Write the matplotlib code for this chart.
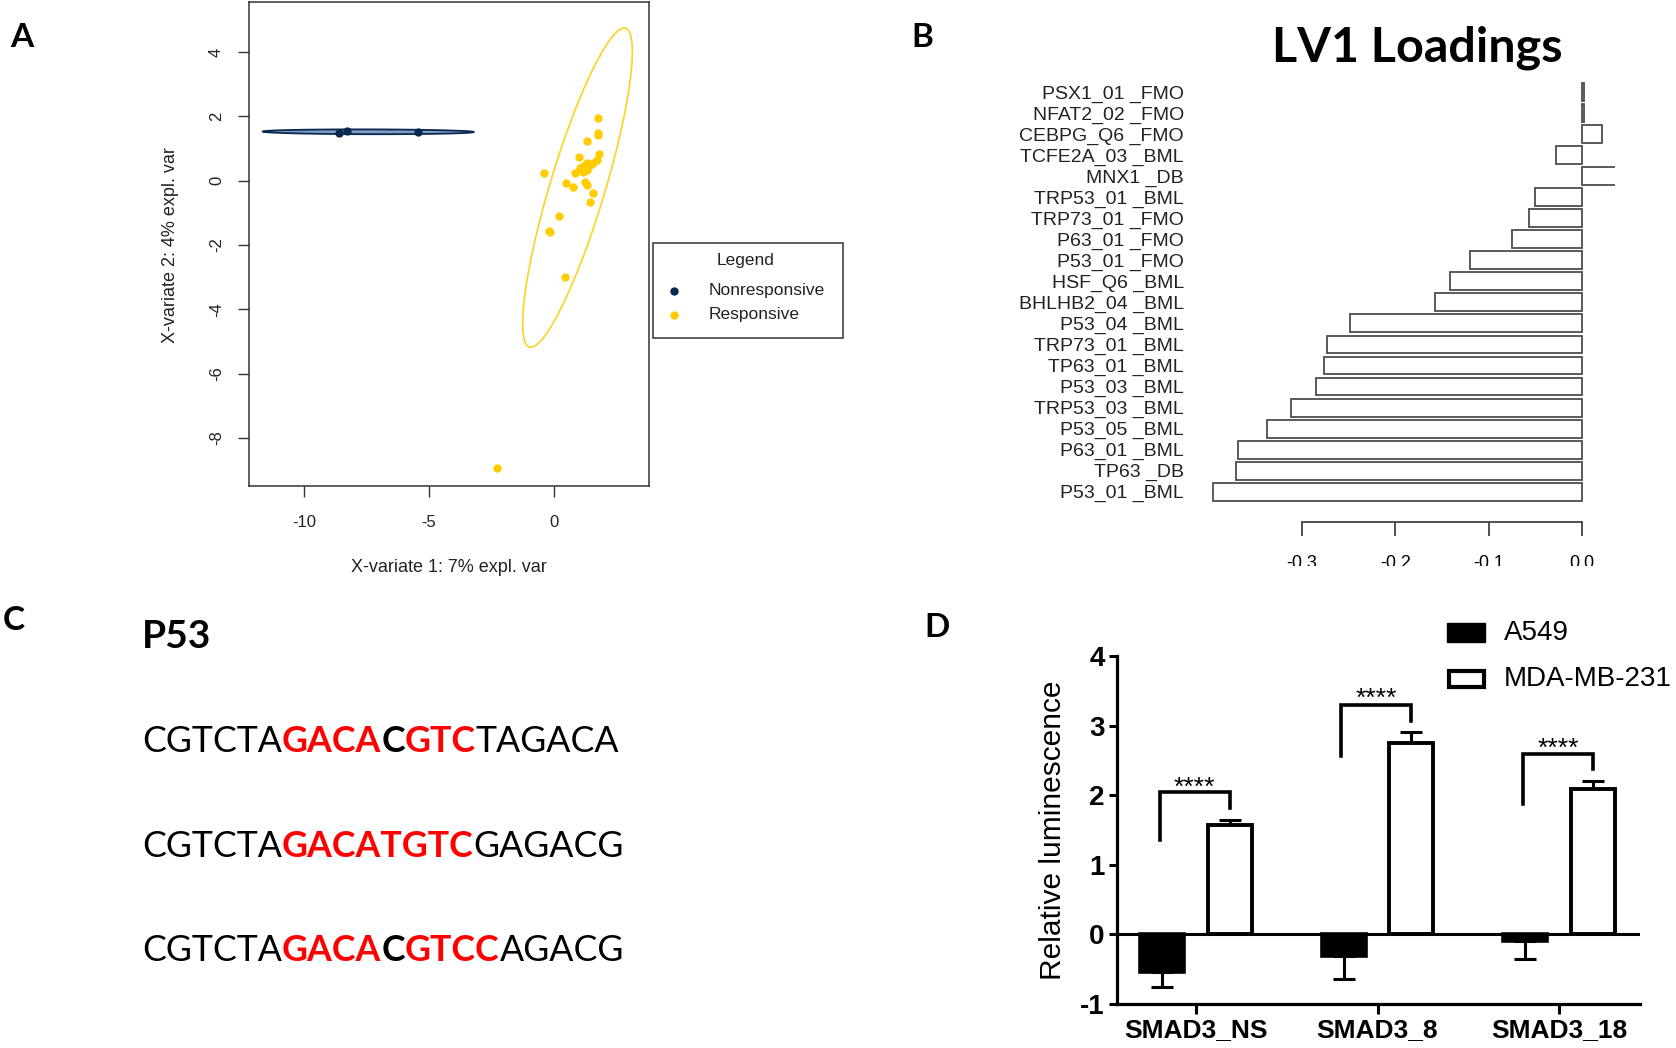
import numpy as np
import matplotlib
matplotlib.use("Agg")
import matplotlib.pyplot as plt
from matplotlib.patches import Rectangle, Polygon
from matplotlib.lines import Line2D

W, H = 1676, 1048

# ---------------- Panel A data ----------------
nonresp_x = [-8.58, -8.26, -5.45]
nonresp_y = [1.49, 1.55, 1.51]
resp_x = [1.73, 1.73, 1.73, 1.32, 1.78, 1.69, 0.98, 1.29, 1.42, 1.16, 1.02, 1.29, 0.82,
          -0.41, 0.47, 1.22, 1.29, 0.76, 1.56, 1.42, 0.20, -0.20, -0.17, 0.43, -2.27, 1.16, 1.56]
resp_y = [1.94, 1.49, 1.42, 1.24, 0.83, 0.64, 0.73, 0.54, 0.49, 0.44, 0.38, 0.33, 0.25,
          0.23, -0.07, -0.03, -0.15, -0.21, -0.39, -0.68, -1.11, -1.56, -1.61, -2.98, -8.92, 0.28, 0.56]
a_xticks = [-10, -5, 0]
a_yticks = [-8, -6, -4, -2, 0, 2, 4]
a_xlabel = "X-variate 1: 7% expl. var"
a_ylabel = "X-variate 2: 4% expl. var"
a_groups = ["Nonresponsive", "Responsive"]

# ---------------- Panel B data ----------------
lv1_labels = ["PSX1_01 _FMO", "NFAT2_02 _FMO", "CEBPG_Q6 _FMO", "TCFE2A_03 _BML", "MNX1 _DB",
              "TRP53_01 _BML", "TRP73_01 _FMO", "P63_01 _FMO", "P53_01 _FMO", "HSF_Q6 _BML",
              "BHLHB2_04 _BML", "P53_04 _BML", "TRP73_01 _BML", "TP63_01 _BML", "P53_03 _BML",
              "TRP53_03 _BML", "P53_05 _BML", "P63_01 _BML", "TP63 _DB", "P53_01 _BML"]
lv1_values = [0.002, 0.002, 0.0215, -0.0283, 0.040, -0.0509, -0.0563, -0.0753, -0.1204, -0.1412,
              -0.1577, -0.2491, -0.2738, -0.2763, -0.2853, -0.3115, -0.3373, -0.3692, -0.3706, -0.3953]
b_xticks = [-0.3, -0.2, -0.1, 0.0]
b_xticklabels = ["-0.3", "-0.2", "-0.1", "0.0"]

# ---------------- Panel C data ----------------
seq_title = "P53"
seq_lines = [
    [("CGTCTA", "black", "normal"), ("GACA", "red", "bold"), ("C", "black", "bold"),
     ("GTC", "red", "bold"), ("TAGACA", "black", "normal")],
    [("CGTCTA", "black", "normal"), ("GACATGTC", "red", "bold"), ("GAGACG", "black", "normal")],
    [("CGTCTA", "black", "normal"), ("GACA", "red", "bold"), ("C", "black", "bold"),
     ("GTCC", "red", "bold"), ("AGACG", "black", "normal")],
]

# ---------------- Panel D data ----------------
d_groups = ["SMAD3_NS", "SMAD3_8", "SMAD3_18"]
a549_mean = [-0.54, -0.316, -0.09]
a549_err = [0.21, 0.32, 0.26]
mda_mean = [1.57, 2.75, 2.09]
mda_err = [0.07, 0.16, 0.11]
bracket_top = [2.04, 3.30, 2.59]
bracket_left_bottom = [1.35, 2.57, 1.88]
bracket_right_bottom = [1.81, 3.06, 2.37]
star_baseline = [2.01, 3.28, 2.56]
sig_text = ["****", "****", "****"]
d_series = ["A549", "MDA-MB-231"]
d_yticks = [-1, 0, 1, 2, 3, 4]

ARIAL = "Liberation Sans"
CAL = "Lato"
NAVY = "#0B2850"
GOLD = "#FFCC00"

fig = plt.figure(figsize=(W / 100, H / 100), dpi=100)
fig.patch.set_facecolor("white")


def rect(l, t, r, b):
    return [l / W, 1 - b / H, (r - l) / W, (b - t) / H]


def conf_ellipse(x, y, chi2=5.991, n=300):
    X = np.column_stack([x, y])
    c = X.mean(axis=0)
    S = np.cov(X.T)
    vals, vecs = np.linalg.eigh(S)
    vals = np.clip(vals, 0, None)
    t = np.linspace(0, 2 * np.pi, n)
    circ = np.vstack([np.cos(t), np.sin(t)])
    pts = (vecs @ (np.sqrt(vals * chi2)[:, None] * circ)).T + c
    return pts


# ================= Panel A =================
axA = fig.add_axes(rect(249, 2, 649, 486))
axA.set_xlim(-12.19, 3.78)
axA.set_ylim(-9.49, 5.55)
e1 = conf_ellipse(nonresp_x, nonresp_y)
axA.add_patch(Polygon(e1, closed=True, facecolor="#7E9DC2", edgecolor=NAVY, lw=1.3, zorder=2))
e2 = conf_ellipse(resp_x, resp_y)
axA.add_patch(Polygon(e2, closed=True, facecolor="none", edgecolor="#FFD21F", lw=1.2, zorder=2))
axA.scatter(nonresp_x, nonresp_y, s=36, color=NAVY, zorder=3, linewidths=0)
axA.scatter(resp_x, resp_y, s=36, color=GOLD, zorder=3, linewidths=0)
axA.set_xticks(a_xticks)
axA.set_xticklabels([str(v) for v in a_xticks])
axA.set_yticks(a_yticks)
axA.set_yticklabels([str(v) for v in a_yticks], rotation=90, va="center")
axA.tick_params(axis="both", direction="out", length=8, width=1, color="#333333",
                labelsize=12, labelcolor="#222222")
axA.tick_params(axis="x", pad=13)
axA.tick_params(axis="y", pad=10)
for lab in axA.get_xticklabels() + axA.get_yticklabels():
    lab.set_fontfamily(ARIAL)
for sp in axA.spines.values():
    sp.set_color("#333333")
    sp.set_linewidth(1.1)

# ================= Panel B =================
axB = fig.add_axes(rect(1190, 60, 1615, 505))
ypos = [len(lv1_values) - 1 - i for i in range(len(lv1_values))]
axB.barh(ypos, lv1_values, height=0.85, color="white", edgecolor="#4d4d4d", linewidth=1.3)
axB.set_xlim(-0.4202, 0.03537)
axB.set_ylim(-0.63, 20.52)
for s in ["top", "right", "left"]:
    axB.spines[s].set_visible(False)
axB.spines["bottom"].set_position(("outward", 12))
axB.spines["bottom"].set_bounds(-0.3, 0.0)
axB.spines["bottom"].set_color("#333333")
axB.spines["bottom"].set_linewidth(1.2)
axB.set_xticks(b_xticks)
axB.set_xticklabels(b_xticklabels)
axB.tick_params(axis="x", direction="out", length=10, width=1.2, color="#333333",
                labelsize=13, pad=14)
axB.set_yticks(ypos)
axB.set_yticklabels(lv1_labels)
axB.tick_params(axis="y", length=0, labelsize=14, pad=4.3, labelcolor="#222222")
for lab in axB.get_xticklabels() + axB.get_yticklabels():
    lab.set_fontfamily(ARIAL)

# ================= Panel D =================
axD = fig.add_axes(rect(1117, 656, 1640, 1004))
gx = np.arange(len(d_groups))
off, bw = 0.185, 0.242
axD.bar(gx - off, a549_mean, width=bw, color="black", edgecolor="black", linewidth=2.6, zorder=3)
axD.bar(gx + off, mda_mean, width=bw, color="white", edgecolor="black", linewidth=2.8, zorder=3)
axD.errorbar(gx - off, a549_mean, yerr=[a549_err, [0] * 3], fmt="none", ecolor="black",
             elinewidth=2.2, capsize=8, capthick=2.2, zorder=2)
axD.errorbar(gx + off, mda_mean, yerr=[[0] * 3, mda_err], fmt="none", ecolor="black",
             elinewidth=2.2, capsize=8, capthick=2.2, zorder=2)
axD.axhline(0, color="black", lw=2.2, zorder=4)
for i in range(len(d_groups)):
    xl, xr = gx[i] - 0.2, gx[i] + 0.187
    axD.plot([xl, xl, xr, xr], [bracket_left_bottom[i], bracket_top[i], bracket_top[i],
                                 bracket_right_bottom[i]],
             color="black", lw=2.6, solid_joinstyle="miter", zorder=5)
    axD.text((xl + xr) / 2, star_baseline[i], sig_text[i], ha="center", va="baseline",
             fontsize=19, fontfamily=ARIAL)
axD.set_xlim(-0.435, 2.446)
axD.set_ylim(-1, 4)
for s in ["top", "right"]:
    axD.spines[s].set_visible(False)
for s in ["left", "bottom"]:
    axD.spines[s].set_linewidth(2.3)
axD.set_yticks(d_yticks)
axD.set_yticklabels([str(v) for v in d_yticks])
axD.set_xticks(gx)
axD.set_xticklabels(d_groups)
axD.tick_params(axis="y", direction="out", length=6, width=2.2, labelsize=20, pad=3)
axD.tick_params(axis="x", direction="out", length=7, width=2.2, labelsize=19, pad=3)
for lab in axD.get_xticklabels() + axD.get_yticklabels():
    lab.set_fontfamily(ARIAL)
    lab.set_fontweight("bold")

# ================= Overlay (pixel coordinates) =================
ax0 = fig.add_axes([0, 0, 1, 1], zorder=10)
ax0.set_xlim(0, W)
ax0.set_ylim(H, 0)
ax0.axis("off")

# panel letters
for letter, (x, y) in zip("ABCD", [(22, 47), (922, 47), (14, 630), (937, 637)]):
    ax0.text(x, y, letter, ha="center", va="baseline", fontsize=24, fontweight="bold",
             fontfamily=CAL)

# Panel A labels + legend
ax0.text(449, 568, a_xlabel, ha="center", va="center", fontsize=13, fontfamily=ARIAL,
         color="#222222")
ax0.text(170, 245, a_ylabel, ha="center", va="center", rotation=90, fontsize=13,
         fontfamily=ARIAL, color="#222222")
ax0.add_patch(Rectangle((653, 243), 190, 95, facecolor="white", edgecolor="#333333", lw=1.1))
ax0.text(746, 261, "Legend", ha="center", va="center", fontsize=12.5, fontfamily=ARIAL,
         color="#222222")
for k, (g, col) in enumerate(zip(a_groups, [NAVY, GOLD])):
    yy = 291 + 24 * k
    ax0.add_line(Line2D([674], [yy], marker="o", markersize=6, color=col, ls="none",
                        markeredgewidth=0))
    ax0.text(709, yy, g, ha="left", va="center", fontsize=12.5, fontfamily=ARIAL,
             color="#222222")

# Panel B title
title = ax0.text(1417, 62, "LV1 Loadings", ha="center", va="baseline", fontsize=32,
                 fontweight="bold", fontfamily=CAL)
# crop the lower half of the B tick labels as in the reference
ax0.add_patch(Rectangle((1240, 566), 400, 30, facecolor="white", edgecolor="none", zorder=20))

# Panel C
ax0.text(142, 648, seq_title, ha="left", va="baseline", fontsize=28, fontweight="bold",
         fontfamily=CAL)
seq_texts = []
for li, (line, base) in enumerate(zip(seq_lines, [752, 857, 961])):
    prev = None
    row = []
    for s, col, wt in line:
        if prev is None:
            t = ax0.text(142, base, s, ha="left", va="baseline", color=col, fontweight=wt,
                         fontsize=30, fontfamily=CAL)
        else:
            t = ax0.annotate(s, xy=(1, 0), xycoords=prev, ha="left", va="bottom", color=col,
                             fontweight=wt, fontsize=30, fontfamily=CAL, annotation_clip=False)
        row.append(t)
        prev = t
    seq_texts.append(row)

# Panel D y label + legend
ax0.text(1053, 830, "Relative luminescence", ha="center", va="center", rotation=90,
         fontsize=21.5, fontfamily=ARIAL)
ax0.add_patch(Rectangle((1447, 623), 38, 19, facecolor="black", edgecolor="black", lw=1))
ax0.add_patch(Rectangle((1449, 671), 35, 16, facecolor="white", edgecolor="black", lw=3))
ax0.text(1504, 633, d_series[0], ha="left", va="center", fontsize=20, fontfamily=ARIAL)
ax0.text(1504, 679, d_series[1], ha="left", va="center", fontsize=20, fontfamily=ARIAL)

# ---- fit widths of text blocks to the reference ----
fig.canvas.draw()
r = fig.canvas.get_renderer()
row0 = seq_texts[0]
wcur = row0[-1].get_window_extent(r).x1 - row0[0].get_window_extent(r).x0
scale = 478.0 / wcur
for row in seq_texts:
    for t in row:
        t.set_fontsize(30 * scale)
wt_ = title.get_window_extent(r).width
title.set_fontsize(32 * 291.0 / wt_)

fig.savefig("out.png", dpi=100, facecolor="white")
